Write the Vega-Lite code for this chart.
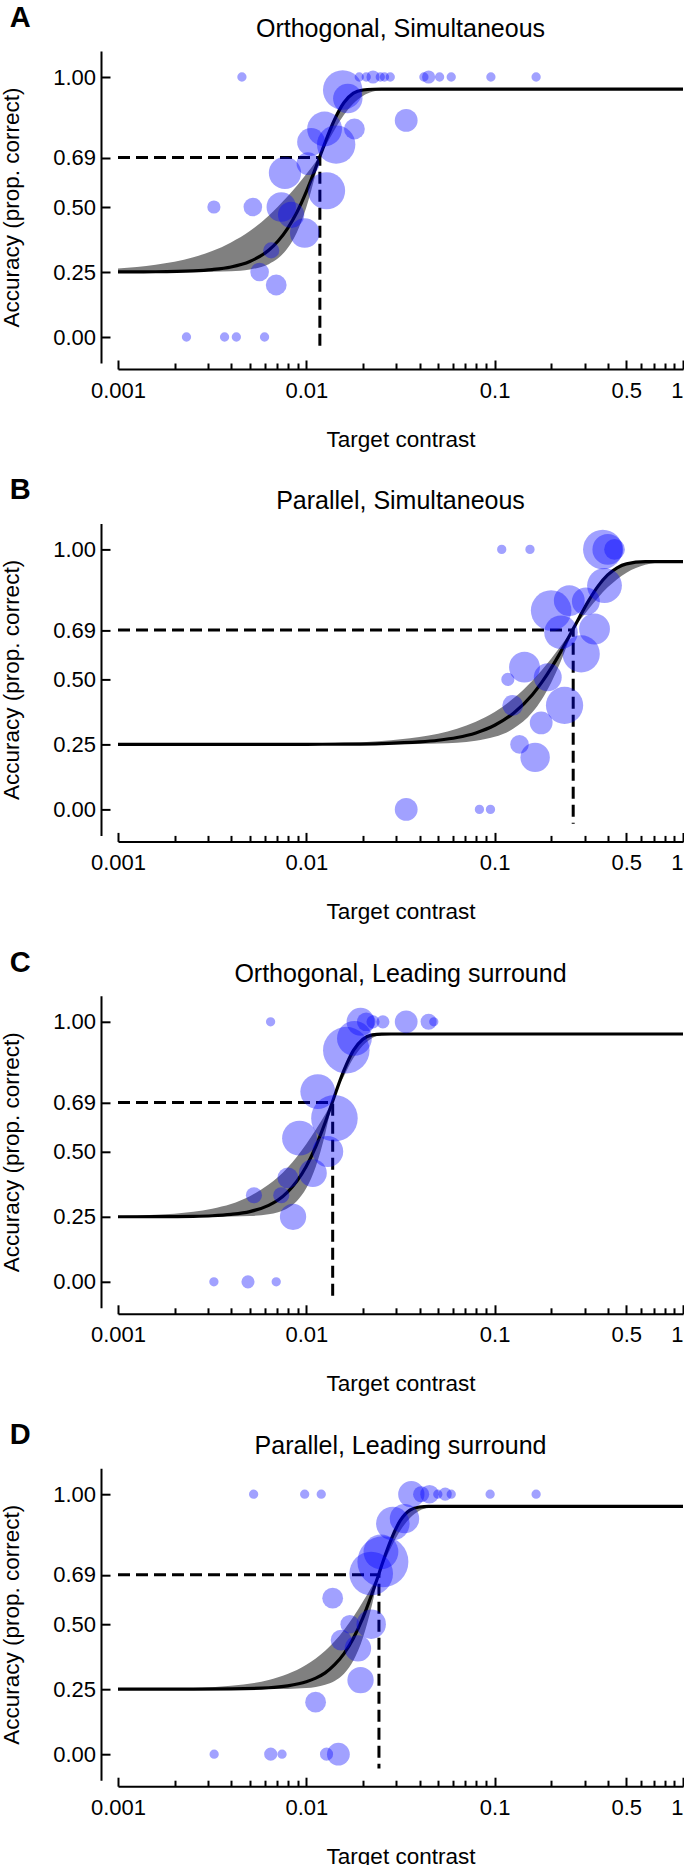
{
  "$schema": "https://vega.github.io/schema/vega-lite/v6.json",
  "padding": {"left": 0, "top": 4, "right": 0, "bottom": 0},
  "spacing": 25.4,
  "config": {
    "font": "Liberation Sans",
    "view": {"stroke": null},
    "axis": {"grid": false, "domainColor": "black", "tickColor": "black", "labelColor": "black", "titleColor": "black", "titleFontWeight": "normal", "domainWidth": 2, "tickWidth": 2, "labelFontSize": 22, "titleFontSize": 22.5, "labelFont": "Liberation Sans", "titleFont": "Liberation Sans"},
    "title": {"fontSize": 25, "fontWeight": "normal", "color": "black", "offset": 9, "font": "Liberation Sans"}
  },
  "datasets": {
    "curves": [
      {"p":"A","x":0.001,"acc":0.2502,"lo":0.25,"hi":0.2638},
      {"p":"A","x":0.001585,"acc":0.2509,"lo":0.25,"hi":0.2778},
      {"p":"A","x":0.002512,"acc":0.2543,"lo":0.2503,"hi":0.307},
      {"p":"A","x":0.003162,"acc":0.2593,"lo":0.251,"hi":0.3308},
      {"p":"A","x":0.003981,"acc":0.2693,"lo":0.2531,"hi":0.3639},
      {"p":"A","x":0.005012,"acc":0.2906,"lo":0.2599,"hi":0.4078},
      {"p":"A","x":0.00631,"acc":0.3336,"lo":0.2802,"hi":0.4668},
      {"p":"A","x":0.007079,"acc":0.3692,"lo":0.3026,"hi":0.5017},
      {"p":"A","x":0.007943,"acc":0.4171,"lo":0.3412,"hi":0.5401},
      {"p":"A","x":0.008913,"acc":0.4797,"lo":0.4032,"hi":0.5817},
      {"p":"A","x":0.01,"acc":0.5592,"lo":0.4994,"hi":0.6268},
      {"p":"A","x":0.01122,"acc":0.6515,"lo":0.6297,"hi":0.6737},
      {"p":"A","x":0.0118,"acc":0.6944,"lo":0.6944,"hi":0.6944},
      {"p":"A","x":0.01259,"acc":0.7488,"lo":0.7323,"hi":0.7488},
      {"p":"A","x":0.01413,"acc":0.8366,"lo":0.7973,"hi":0.8366},
      {"p":"A","x":0.01585,"acc":0.902,"lo":0.8545,"hi":0.902},
      {"p":"A","x":0.01778,"acc":0.9377,"lo":0.8985,"hi":0.9377},
      {"p":"A","x":0.01995,"acc":0.9501,"lo":0.9273,"hi":0.9501},
      {"p":"A","x":0.02239,"acc":0.9528,"lo":0.9432,"hi":0.9528},
      {"p":"A","x":0.02512,"acc":0.953,"lo":0.9501,"hi":0.953},
      {"p":"A","x":0.03162,"acc":0.953,"lo":0.953,"hi":0.953},
      {"p":"A","x":0.1,"acc":0.953,"lo":0.953,"hi":0.953},
      {"p":"A","x":1,"acc":0.953,"lo":0.953,"hi":0.953},

      {"p":"B","x":0.001,"acc":0.25,"lo":0.25,"hi":0.2501},
      {"p":"B","x":0.003162,"acc":0.25,"lo":0.25,"hi":0.2504},
      {"p":"B","x":0.01,"acc":0.2504,"lo":0.25,"hi":0.2527},
      {"p":"B","x":0.01585,"acc":0.2511,"lo":0.2501,"hi":0.256},
      {"p":"B","x":0.02512,"acc":0.2532,"lo":0.2503,"hi":0.2633},
      {"p":"B","x":0.03981,"acc":0.2595,"lo":0.2514,"hi":0.2782},
      {"p":"B","x":0.05012,"acc":0.2659,"lo":0.253,"hi":0.2914},
      {"p":"B","x":0.0631,"acc":0.2764,"lo":0.2565,"hi":0.3104},
      {"p":"B","x":0.07943,"acc":0.2942,"lo":0.264,"hi":0.3374},
      {"p":"B","x":0.1,"acc":0.3236,"lo":0.2791,"hi":0.375},
      {"p":"B","x":0.1259,"acc":0.3702,"lo":0.3108,"hi":0.4271},
      {"p":"B","x":0.1585,"acc":0.441,"lo":0.3733,"hi":0.4952},
      {"p":"B","x":0.1778,"acc":0.4883,"lo":0.423,"hi":0.5354},
      {"p":"B","x":0.1995,"acc":0.5432,"lo":0.4874,"hi":0.5795},
      {"p":"B","x":0.2239,"acc":0.6048,"lo":0.5681,"hi":0.6274},
      {"p":"B","x":0.2512,"acc":0.6713,"lo":0.6613,"hi":0.6772},
      {"p":"B","x":0.2612,"acc":0.6944,"lo":0.6944,"hi":0.6944},
      {"p":"B","x":0.2818,"acc":0.7392,"lo":0.7255,"hi":0.7392},
      {"p":"B","x":0.3162,"acc":0.804,"lo":0.7717,"hi":0.804},
      {"p":"B","x":0.3548,"acc":0.8597,"lo":0.8153,"hi":0.8597},
      {"p":"B","x":0.3981,"acc":0.9017,"lo":0.854,"hi":0.9017},
      {"p":"B","x":0.4467,"acc":0.9293,"lo":0.8856,"hi":0.9293},
      {"p":"B","x":0.5012,"acc":0.9442,"lo":0.9105,"hi":0.9442},
      {"p":"B","x":0.631,"acc":0.9526,"lo":0.941,"hi":0.9526},
      {"p":"B","x":0.7943,"acc":0.953,"lo":0.9508,"hi":0.953},
      {"p":"B","x":1,"acc":0.953,"lo":0.953,"hi":0.953},

      {"p":"C","x":0.001,"acc":0.2501,"lo":0.25,"hi":0.2528},
      {"p":"C","x":0.001585,"acc":0.2504,"lo":0.25,"hi":0.2575},
      {"p":"C","x":0.002512,"acc":0.2518,"lo":0.25,"hi":0.2695},
      {"p":"C","x":0.003162,"acc":0.254,"lo":0.2502,"hi":0.2813},
      {"p":"C","x":0.003981,"acc":0.2593,"lo":0.2508,"hi":0.2992},
      {"p":"C","x":0.005012,"acc":0.2701,"lo":0.2527,"hi":0.3293},
      {"p":"C","x":0.00631,"acc":0.2941,"lo":0.2597,"hi":0.3738},
      {"p":"C","x":0.007079,"acc":0.3145,"lo":0.2676,"hi":0.403},
      {"p":"C","x":0.007943,"acc":0.3451,"lo":0.283,"hi":0.439},
      {"p":"C","x":0.008913,"acc":0.3873,"lo":0.311,"hi":0.4814},
      {"p":"C","x":0.01,"acc":0.4446,"lo":0.3603,"hi":0.5302},
      {"p":"C","x":0.01122,"acc":0.5202,"lo":0.4426,"hi":0.5851},
      {"p":"C","x":0.01259,"acc":0.6127,"lo":0.5686,"hi":0.6437},
      {"p":"C","x":0.0138,"acc":0.6944,"lo":0.6944,"hi":0.6944},
      {"p":"C","x":0.01585,"acc":0.8138,"lo":0.7912,"hi":0.8138},
      {"p":"C","x":0.01778,"acc":0.8902,"lo":0.8605,"hi":0.8902},
      {"p":"C","x":0.01995,"acc":0.9333,"lo":0.9091,"hi":0.9333},
      {"p":"C","x":0.02239,"acc":0.9495,"lo":0.9379,"hi":0.9495},
      {"p":"C","x":0.02512,"acc":0.9528,"lo":0.9493,"hi":0.9528},
      {"p":"C","x":0.02818,"acc":0.953,"lo":0.9524,"hi":0.953},
      {"p":"C","x":0.03162,"acc":0.953,"lo":0.953,"hi":0.953},
      {"p":"C","x":0.1,"acc":0.953,"lo":0.953,"hi":0.953},
      {"p":"C","x":1,"acc":0.953,"lo":0.953,"hi":0.953},

      {"p":"D","x":0.001,"acc":0.25,"lo":0.25,"hi":0.2506},
      {"p":"D","x":0.002512,"acc":0.2502,"lo":0.25,"hi":0.2548},
      {"p":"D","x":0.003981,"acc":0.251,"lo":0.25,"hi":0.2634},
      {"p":"D","x":0.00631,"acc":0.2555,"lo":0.2503,"hi":0.2853},
      {"p":"D","x":0.007943,"acc":0.2628,"lo":0.2512,"hi":0.3081},
      {"p":"D","x":0.01,"acc":0.2784,"lo":0.2545,"hi":0.3437},
      {"p":"D","x":0.01122,"acc":0.2925,"lo":0.2589,"hi":0.3683},
      {"p":"D","x":0.01259,"acc":0.3127,"lo":0.2668,"hi":0.3983},
      {"p":"D","x":0.01413,"acc":0.3441,"lo":0.2816,"hi":0.4347},
      {"p":"D","x":0.01585,"acc":0.3869,"lo":0.3095,"hi":0.4781},
      {"p":"D","x":0.01778,"acc":0.4462,"lo":0.3603,"hi":0.5287},
      {"p":"D","x":0.01995,"acc":0.5243,"lo":0.4467,"hi":0.5862},
      {"p":"D","x":0.02239,"acc":0.6207,"lo":0.5789,"hi":0.6483},
      {"p":"D","x":0.0243,"acc":0.6944,"lo":0.6944,"hi":0.6944},
      {"p":"D","x":0.0263,"acc":0.7678,"lo":0.75,"hi":0.7678},
      {"p":"D","x":0.02818,"acc":0.8255,"lo":0.7954,"hi":0.8255},
      {"p":"D","x":0.03162,"acc":0.9,"lo":0.8613,"hi":0.9},
      {"p":"D","x":0.03548,"acc":0.939,"lo":0.9084,"hi":0.939},
      {"p":"D","x":0.03981,"acc":0.9508,"lo":0.9367,"hi":0.9508},
      {"p":"D","x":0.04467,"acc":0.9529,"lo":0.9488,"hi":0.9529},
      {"p":"D","x":0.05012,"acc":0.953,"lo":0.9523,"hi":0.953},
      {"p":"D","x":0.0631,"acc":0.953,"lo":0.953,"hi":0.953},
      {"p":"D","x":0.1,"acc":0.953,"lo":0.953,"hi":0.953},
      {"p":"D","x":1,"acc":0.953,"lo":0.953,"hi":0.953}
    ],
    "thr": [
      {"p":"A","x":0.001,"acc":0.69,"o":1},{"p":"A","x":0.0118,"acc":0.69,"o":2},{"p":"A","x":0.0118,"acc":-0.055,"o":3},
      {"p":"B","x":0.001,"acc":0.69,"o":1},{"p":"B","x":0.2612,"acc":0.69,"o":2},{"p":"B","x":0.2612,"acc":-0.055,"o":3},
      {"p":"C","x":0.001,"acc":0.69,"o":1},{"p":"C","x":0.0138,"acc":0.69,"o":2},{"p":"C","x":0.0138,"acc":-0.055,"o":3},
      {"p":"D","x":0.001,"acc":0.69,"o":1},{"p":"D","x":0.0243,"acc":0.69,"o":2},{"p":"D","x":0.0243,"acc":-0.055,"o":3}
    ],
    "pts": [
      {"p":"A","x":0.00455,"acc":1,"n":1},{"p":"A","x":0.0191,"acc":1,"n":1},{"p":"A","x":0.0208,"acc":1,"n":1},{"p":"A","x":0.0226,"acc":1,"n":2},
      {"p":"A","x":0.0247,"acc":1,"n":1},{"p":"A","x":0.026,"acc":1,"n":1},{"p":"A","x":0.0279,"acc":1,"n":1},{"p":"A","x":0.0421,"acc":1,"n":1},
      {"p":"A","x":0.0446,"acc":1,"n":2},{"p":"A","x":0.051,"acc":1,"n":1},{"p":"A","x":0.0588,"acc":1,"n":1},{"p":"A","x":0.0955,"acc":1,"n":1},
      {"p":"A","x":0.166,"acc":1,"n":1},{"p":"A","x":0.0156,"acc":0.95,"n":18},{"p":"A","x":0.0166,"acc":0.917,"n":10},{"p":"A","x":0.0339,"acc":0.833,"n":6},
      {"p":"A","x":0.018,"acc":0.8,"n":5},{"p":"A","x":0.0125,"acc":0.8,"n":14},{"p":"A","x":0.0144,"acc":0.74,"n":17},{"p":"A","x":0.0106,"acc":0.75,"n":9},
      {"p":"A","x":0.0102,"acc":0.667,"n":6},{"p":"A","x":0.0077,"acc":0.631,"n":12},{"p":"A","x":0.0128,"acc":0.5625,"n":16},{"p":"A","x":0.00736,"acc":0.5,"n":10},
      {"p":"A","x":0.0052,"acc":0.5,"n":4},{"p":"A","x":0.00323,"acc":0.5,"n":2},{"p":"A","x":0.0083,"acc":0.47,"n":8},{"p":"A","x":0.0098,"acc":0.4,"n":10},
      {"p":"A","x":0.00651,"acc":0.333,"n":3},{"p":"A","x":0.00565,"acc":0.25,"n":4},{"p":"A","x":0.00692,"acc":0.2,"n":5},
      {"p":"A","x":0.00231,"acc":0,"n":1},{"p":"A","x":0.00368,"acc":0,"n":1},{"p":"A","x":0.00425,"acc":0,"n":1},{"p":"A","x":0.006,"acc":0,"n":1},

      {"p":"B","x":0.109,"acc":1,"n":1},{"p":"B","x":0.154,"acc":1,"n":1},{"p":"B","x":0.375,"acc":1,"n":18},{"p":"B","x":0.399,"acc":1,"n":11},
      {"p":"B","x":0.433,"acc":1,"n":5},{"p":"B","x":0.383,"acc":0.861,"n":14},{"p":"B","x":0.249,"acc":0.803,"n":11},{"p":"B","x":0.1995,"acc":0.765,"n":19},
      {"p":"B","x":0.305,"acc":0.8,"n":9},{"p":"B","x":0.339,"acc":0.694,"n":11},{"p":"B","x":0.225,"acc":0.681,"n":13},{"p":"B","x":0.288,"acc":0.598,"n":16},
      {"p":"B","x":0.144,"acc":0.547,"n":11},{"p":"B","x":0.1175,"acc":0.5,"n":2},{"p":"B","x":0.1914,"acc":0.508,"n":9},{"p":"B","x":0.1247,"acc":0.4,"n":5},
      {"p":"B","x":0.235,"acc":0.4,"n":16},{"p":"B","x":0.1766,"acc":0.333,"n":6},{"p":"B","x":0.1355,"acc":0.25,"n":4},{"p":"B","x":0.164,"acc":0.2,"n":10},
      {"p":"B","x":0.0339,"acc":0,"n":6},{"p":"B","x":0.083,"acc":0,"n":1},{"p":"B","x":0.095,"acc":0,"n":1},

      {"p":"C","x":0.00646,"acc":1,"n":1},{"p":"C","x":0.0194,"acc":1,"n":9},{"p":"C","x":0.0208,"acc":1,"n":4},{"p":"C","x":0.0226,"acc":1,"n":2},
      {"p":"C","x":0.0255,"acc":1,"n":2},{"p":"C","x":0.0339,"acc":1,"n":6},{"p":"C","x":0.0446,"acc":1,"n":3},{"p":"C","x":0.0475,"acc":1,"n":1},
      {"p":"C","x":0.0163,"acc":0.891,"n":25},{"p":"C","x":0.018,"acc":0.936,"n":14},{"p":"C","x":0.0115,"acc":0.7315,"n":14},{"p":"C","x":0.0141,"acc":0.629,"n":25},
      {"p":"C","x":0.0092,"acc":0.5525,"n":14},{"p":"C","x":0.013,"acc":0.501,"n":11},{"p":"C","x":0.01083,"acc":0.418,"n":9},{"p":"C","x":0.00798,"acc":0.4,"n":5},
      {"p":"C","x":0.00527,"acc":0.333,"n":3},{"p":"C","x":0.00736,"acc":0.333,"n":3},{"p":"C","x":0.0085,"acc":0.25,"n":8},
      {"p":"C","x":0.00323,"acc":0,"n":1},{"p":"C","x":0.0049,"acc":0,"n":2},{"p":"C","x":0.00692,"acc":0,"n":1},

      {"p":"D","x":0.00525,"acc":1,"n":1},{"p":"D","x":0.0098,"acc":1,"n":1},{"p":"D","x":0.012,"acc":1,"n":1},{"p":"D","x":0.0361,"acc":1,"n":8},
      {"p":"D","x":0.0407,"acc":1,"n":3},{"p":"D","x":0.0451,"acc":1,"n":4},{"p":"D","x":0.0499,"acc":1,"n":1},{"p":"D","x":0.0546,"acc":1,"n":2},
      {"p":"D","x":0.0588,"acc":1,"n":1},{"p":"D","x":0.0946,"acc":1,"n":1},{"p":"D","x":0.166,"acc":1,"n":1},
      {"p":"D","x":0.0332,"acc":0.906,"n":10},{"p":"D","x":0.0288,"acc":0.887,"n":13},{"p":"D","x":0.0249,"acc":0.778,"n":14},{"p":"D","x":0.0255,"acc":0.74,"n":30},
      {"p":"D","x":0.0221,"acc":0.695,"n":22},{"p":"D","x":0.0138,"acc":0.6,"n":5},{"p":"D","x":0.0221,"acc":0.5,"n":10},{"p":"D","x":0.017,"acc":0.5,"n":4},
      {"p":"D","x":0.0153,"acc":0.439,"n":5},{"p":"D","x":0.0188,"acc":0.407,"n":8},{"p":"D","x":0.0194,"acc":0.285,"n":8},{"p":"D","x":0.0112,"acc":0.2,"n":5},
      {"p":"D","x":0.00324,"acc":0,"n":1},{"p":"D","x":0.00647,"acc":0,"n":2},{"p":"D","x":0.00743,"acc":0,"n":1},{"p":"D","x":0.0128,"acc":0,"n":2},{"p":"D","x":0.0148,"acc":0,"n":6}
    ]
  },
  "vconcat": [
    {
      "title": {"text": "A", "anchor": "start", "frame": "bounds", "fontSize": 29, "fontWeight": "bold", "offset": -16, "dx": 9},
      "vconcat": [{
        "title": {"text": "Orthogonal, Simultaneous", "anchor": "middle"},
        "width": 565, "height": 312,
        "encoding": {
          "x": {"field": "x", "type": "quantitative", "title": "Target contrast", "scale": {"type": "log", "domain": [0.001, 1], "nice": false},
            "axis": {"values": [0.001,0.002,0.003,0.004,0.005,0.006,0.007,0.008,0.009,0.01,0.02,0.03,0.04,0.05,0.06,0.07,0.08,0.09,0.1,0.2,0.3,0.4,0.5,0.6,0.7,0.8,0.9,1], "format": "~g",
              "labelExpr": "(datum.value == 0.001 || datum.value == 0.01 || datum.value == 0.1 || datum.value == 0.5 || datum.value == 1) ? datum.label : ''",
              "tickSize": {"condition": {"test": "datum.value == 0.001 || datum.value == 0.01 || datum.value == 0.1 || datum.value == 0.5 || datum.value == 1", "value": -9}, "value": -6},
              "labelAlign": {"condition": {"test": "datum.value == 1", "value": "right"}, "value": "center"},
              "offset": 6, "labelPadding": 20, "labelOverlap": false, "labelFlush": false, "titlePadding": 24}}
        },
        "layer": [
          {"data": {"name": "curves"}, "transform": [{"filter": "datum.p == 'A'"}], "mark": {"type": "area", "color": "#808080", "interpolate": "monotone"},
           "encoding": {"y": {"field": "lo", "type": "quantitative", "title": "Accuracy (prop. correct)", "scale": {"domain": [-0.1, 1.1], "nice": false, "zero": false},
            "axis": {"values": [0, 0.25, 0.5, 0.69, 1], "format": ".2f", "tickSize": -9, "offset": 17, "labelPadding": 14.5, "titlePadding": 29}}, "y2": {"field": "hi"}}},
          {"data": {"name": "curves"}, "transform": [{"filter": "datum.p == 'A'"}], "mark": {"type": "line", "color": "black", "strokeWidth": 3.2, "interpolate": "monotone"},
           "encoding": {"y": {"field": "acc", "type": "quantitative", "title": "Accuracy (prop. correct)"}}},
          {"data": {"name": "thr"}, "transform": [{"filter": "datum.p == 'A'"}], "mark": {"type": "line", "color": "black", "strokeWidth": 3, "strokeDash": [12, 6]},
           "encoding": {"y": {"field": "acc", "type": "quantitative", "title": "Accuracy (prop. correct)"}, "order": {"field": "o"}}},
          {"data": {"name": "pts"}, "transform": [{"filter": "datum.p == 'A'"}], "mark": {"type": "circle", "color": "#0000ff", "opacity": 0.37},
           "encoding": {"y": {"field": "acc", "type": "quantitative", "title": "Accuracy (prop. correct)"}, "size": {"field": "n", "type": "quantitative", "scale": {"domain": [0, 30], "range": [0, 2600]}, "legend": null}}}
        ]
      }]
    },
    {
      "title": {"text": "B", "anchor": "start", "frame": "bounds", "fontSize": 29, "fontWeight": "bold", "offset": -16, "dx": 9},
      "vconcat": [{
        "title": {"text": "Parallel, Simultaneous", "anchor": "middle"},
        "width": 565, "height": 312,
        "encoding": {
          "x": {"field": "x", "type": "quantitative", "title": "Target contrast", "scale": {"type": "log", "domain": [0.001, 1], "nice": false},
            "axis": {"values": [0.001,0.002,0.003,0.004,0.005,0.006,0.007,0.008,0.009,0.01,0.02,0.03,0.04,0.05,0.06,0.07,0.08,0.09,0.1,0.2,0.3,0.4,0.5,0.6,0.7,0.8,0.9,1], "format": "~g",
              "labelExpr": "(datum.value == 0.001 || datum.value == 0.01 || datum.value == 0.1 || datum.value == 0.5 || datum.value == 1) ? datum.label : ''",
              "tickSize": {"condition": {"test": "datum.value == 0.001 || datum.value == 0.01 || datum.value == 0.1 || datum.value == 0.5 || datum.value == 1", "value": -9}, "value": -6},
              "labelAlign": {"condition": {"test": "datum.value == 1", "value": "right"}, "value": "center"},
              "offset": 6, "labelPadding": 20, "labelOverlap": false, "labelFlush": false, "titlePadding": 24}}
        },
        "layer": [
          {"data": {"name": "curves"}, "transform": [{"filter": "datum.p == 'B'"}], "mark": {"type": "area", "color": "#808080", "interpolate": "monotone"},
           "encoding": {"y": {"field": "lo", "type": "quantitative", "title": "Accuracy (prop. correct)", "scale": {"domain": [-0.1, 1.1], "nice": false, "zero": false},
            "axis": {"values": [0, 0.25, 0.5, 0.69, 1], "format": ".2f", "tickSize": -9, "offset": 17, "labelPadding": 14.5, "titlePadding": 29}}, "y2": {"field": "hi"}}},
          {"data": {"name": "curves"}, "transform": [{"filter": "datum.p == 'B'"}], "mark": {"type": "line", "color": "black", "strokeWidth": 3.2, "interpolate": "monotone"},
           "encoding": {"y": {"field": "acc", "type": "quantitative", "title": "Accuracy (prop. correct)"}}},
          {"data": {"name": "thr"}, "transform": [{"filter": "datum.p == 'B'"}], "mark": {"type": "line", "color": "black", "strokeWidth": 3, "strokeDash": [12, 6]},
           "encoding": {"y": {"field": "acc", "type": "quantitative", "title": "Accuracy (prop. correct)"}, "order": {"field": "o"}}},
          {"data": {"name": "pts"}, "transform": [{"filter": "datum.p == 'B'"}], "mark": {"type": "circle", "color": "#0000ff", "opacity": 0.37},
           "encoding": {"y": {"field": "acc", "type": "quantitative", "title": "Accuracy (prop. correct)"}, "size": {"field": "n", "type": "quantitative", "scale": {"domain": [0, 30], "range": [0, 2600]}, "legend": null}}}
        ]
      }]
    },
    {
      "title": {"text": "C", "anchor": "start", "frame": "bounds", "fontSize": 29, "fontWeight": "bold", "offset": -16, "dx": 9},
      "vconcat": [{
        "title": {"text": "Orthogonal, Leading surround", "anchor": "middle"},
        "width": 565, "height": 312,
        "encoding": {
          "x": {"field": "x", "type": "quantitative", "title": "Target contrast", "scale": {"type": "log", "domain": [0.001, 1], "nice": false},
            "axis": {"values": [0.001,0.002,0.003,0.004,0.005,0.006,0.007,0.008,0.009,0.01,0.02,0.03,0.04,0.05,0.06,0.07,0.08,0.09,0.1,0.2,0.3,0.4,0.5,0.6,0.7,0.8,0.9,1], "format": "~g",
              "labelExpr": "(datum.value == 0.001 || datum.value == 0.01 || datum.value == 0.1 || datum.value == 0.5 || datum.value == 1) ? datum.label : ''",
              "tickSize": {"condition": {"test": "datum.value == 0.001 || datum.value == 0.01 || datum.value == 0.1 || datum.value == 0.5 || datum.value == 1", "value": -9}, "value": -6},
              "labelAlign": {"condition": {"test": "datum.value == 1", "value": "right"}, "value": "center"},
              "offset": 6, "labelPadding": 20, "labelOverlap": false, "labelFlush": false, "titlePadding": 24}}
        },
        "layer": [
          {"data": {"name": "curves"}, "transform": [{"filter": "datum.p == 'C'"}], "mark": {"type": "area", "color": "#808080", "interpolate": "monotone"},
           "encoding": {"y": {"field": "lo", "type": "quantitative", "title": "Accuracy (prop. correct)", "scale": {"domain": [-0.1, 1.1], "nice": false, "zero": false},
            "axis": {"values": [0, 0.25, 0.5, 0.69, 1], "format": ".2f", "tickSize": -9, "offset": 17, "labelPadding": 14.5, "titlePadding": 29}}, "y2": {"field": "hi"}}},
          {"data": {"name": "curves"}, "transform": [{"filter": "datum.p == 'C'"}], "mark": {"type": "line", "color": "black", "strokeWidth": 3.2, "interpolate": "monotone"},
           "encoding": {"y": {"field": "acc", "type": "quantitative", "title": "Accuracy (prop. correct)"}}},
          {"data": {"name": "thr"}, "transform": [{"filter": "datum.p == 'C'"}], "mark": {"type": "line", "color": "black", "strokeWidth": 3, "strokeDash": [12, 6]},
           "encoding": {"y": {"field": "acc", "type": "quantitative", "title": "Accuracy (prop. correct)"}, "order": {"field": "o"}}},
          {"data": {"name": "pts"}, "transform": [{"filter": "datum.p == 'C'"}], "mark": {"type": "circle", "color": "#0000ff", "opacity": 0.37},
           "encoding": {"y": {"field": "acc", "type": "quantitative", "title": "Accuracy (prop. correct)"}, "size": {"field": "n", "type": "quantitative", "scale": {"domain": [0, 30], "range": [0, 2600]}, "legend": null}}}
        ]
      }]
    },
    {
      "title": {"text": "D", "anchor": "start", "frame": "bounds", "fontSize": 29, "fontWeight": "bold", "offset": -16, "dx": 9},
      "vconcat": [{
        "title": {"text": "Parallel, Leading surround", "anchor": "middle"},
        "width": 565, "height": 312,
        "encoding": {
          "x": {"field": "x", "type": "quantitative", "title": "Target contrast", "scale": {"type": "log", "domain": [0.001, 1], "nice": false},
            "axis": {"values": [0.001,0.002,0.003,0.004,0.005,0.006,0.007,0.008,0.009,0.01,0.02,0.03,0.04,0.05,0.06,0.07,0.08,0.09,0.1,0.2,0.3,0.4,0.5,0.6,0.7,0.8,0.9,1], "format": "~g",
              "labelExpr": "(datum.value == 0.001 || datum.value == 0.01 || datum.value == 0.1 || datum.value == 0.5 || datum.value == 1) ? datum.label : ''",
              "tickSize": {"condition": {"test": "datum.value == 0.001 || datum.value == 0.01 || datum.value == 0.1 || datum.value == 0.5 || datum.value == 1", "value": -9}, "value": -6},
              "labelAlign": {"condition": {"test": "datum.value == 1", "value": "right"}, "value": "center"},
              "offset": 6, "labelPadding": 20, "labelOverlap": false, "labelFlush": false, "titlePadding": 24}}
        },
        "layer": [
          {"data": {"name": "curves"}, "transform": [{"filter": "datum.p == 'D'"}], "mark": {"type": "area", "color": "#808080", "interpolate": "monotone"},
           "encoding": {"y": {"field": "lo", "type": "quantitative", "title": "Accuracy (prop. correct)", "scale": {"domain": [-0.1, 1.1], "nice": false, "zero": false},
            "axis": {"values": [0, 0.25, 0.5, 0.69, 1], "format": ".2f", "tickSize": -9, "offset": 17, "labelPadding": 14.5, "titlePadding": 29}}, "y2": {"field": "hi"}}},
          {"data": {"name": "curves"}, "transform": [{"filter": "datum.p == 'D'"}], "mark": {"type": "line", "color": "black", "strokeWidth": 3.2, "interpolate": "monotone"},
           "encoding": {"y": {"field": "acc", "type": "quantitative", "title": "Accuracy (prop. correct)"}}},
          {"data": {"name": "thr"}, "transform": [{"filter": "datum.p == 'D'"}], "mark": {"type": "line", "color": "black", "strokeWidth": 3, "strokeDash": [12, 6]},
           "encoding": {"y": {"field": "acc", "type": "quantitative", "title": "Accuracy (prop. correct)"}, "order": {"field": "o"}}},
          {"data": {"name": "pts"}, "transform": [{"filter": "datum.p == 'D'"}], "mark": {"type": "circle", "color": "#0000ff", "opacity": 0.37},
           "encoding": {"y": {"field": "acc", "type": "quantitative", "title": "Accuracy (prop. correct)"}, "size": {"field": "n", "type": "quantitative", "scale": {"domain": [0, 30], "range": [0, 2600]}, "legend": null}}}
        ]
      }]
    }
  ]
}
